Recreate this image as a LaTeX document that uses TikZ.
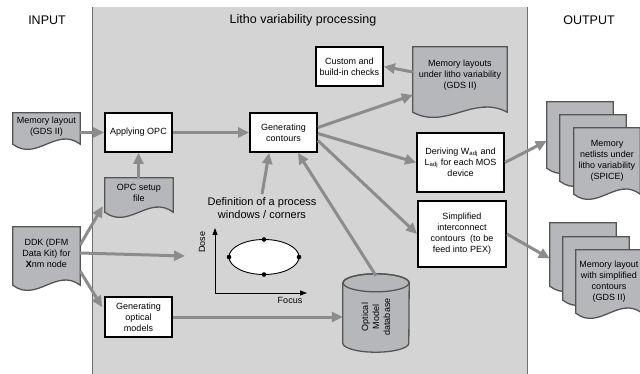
\documentclass[tikz,border=0pt]{standalone}
\usepackage{fontspec}
\setmainfont{Liberation Sans}
\usetikzlibrary{arrows.meta,calc}
\pgfdeclarelayer{bg}
\pgfdeclarelayer{mid}
\pgfsetlayers{bg,mid,main}
\definecolor{panelgray}{HTML}{D4D4D4}
\definecolor{panelline}{HTML}{6E6E6E}
\definecolor{docgray}{HTML}{B5B7BA}
\definecolor{docline}{HTML}{555555}
\definecolor{arrgray}{HTML}{8B8C8E}
\newcommand{\boxfont}{\fontsize{9}{11}\selectfont}
\newcommand{\drawdoc}[2]{%
  \path[docpath] (#1.north west) -- (#1.north east) -- ($(#1.south east)+(0,#2)$)
    .. controls ($(#1.south west)!0.65!(#1.south east)+(0,#2-18)$) and ($(#1.south west)!0.35!(#1.south east)+(0,#2+18)$) ..
    ($(#1.south west)+(0,#2)$) -- cycle;}
\begin{document}
\begin{tikzpicture}[x=1pt,y=-1pt,
  procbox/.style={draw=black, line width=1.8pt, fill=white, align=center, font=\boxfont, inner sep=1pt, minimum width=67pt, minimum height=39pt},
  docnode/.style={align=center, font=\boxfont, inner sep=0pt},
  docpath/.style={fill=docgray, draw=docline, line width=1.3pt},
  arr/.style={draw=arrgray, line width=3pt, -{Triangle[length=11pt,width=10pt]}},
  header/.style={font=\fontsize{12.5}{15}\selectfont},
  axisarr/.style={draw=black, line width=0.9pt, -{Triangle[length=7pt,width=5pt]}}
]
\useasboundingbox (0,0) rectangle (640,374);
\begin{pgfonlayer}{bg}
  \fill[panelgray] (92,7) rectangle (527,374);
  \draw[panelline, line width=0.8pt] (92,7) -- (92,374) (527,7) -- (527,374);
\end{pgfonlayer}

% headers
\node[header] (hin) at (47,20) {INPUT};
\node[header] (hlitho) at (303,20) {Litho variability processing};
\node[header] (hout) at (589,20) {OUTPUT};

% input documents
\node[docnode, minimum width=67pt, minimum height=28pt] (ml) at (46.5,127) {Memory layout\\(GDS II)};
\node[docnode, minimum width=67pt, minimum height=52pt] (ddk) at (46.5,253) {DDK (DFM\\Data Kit) for\\\textbf{X}nm node};
\node[docnode, minimum width=68pt, minimum height=30pt] (opc) at (139,193) {OPC setup\\file};

% process boxes
\node[procbox] (aopc) at (138.5,132.5) {Applying OPC};
\node[procbox] (gc) at (283.5,132.5) {Generating\\contours};
\node[procbox] (cc) at (349.5,66.5) {Custom and\\build-in checks};
\node[procbox, minimum width=87pt, minimum height=59pt] (deriv) at (460.5,162.5) {Deriving W\textsubscript{adj} and\\L\textsubscript{adj} for each MOS\\device};
\node[procbox, minimum width=88pt, minimum height=66pt] (simp) at (462,234) {Simplified\\interconnect\\contours~ (to be\\feed into PEX)};
\node[procbox, minimum height=40pt] (gom) at (138.5,317) {Generating\\optical\\models};

% memory layouts under litho variability
\node[docnode, minimum width=94pt, minimum height=56pt] (mlv) at (460,75) {Memory layouts\\under litho variability\\(GDS II)};

% output stacks
\node[docnode, minimum width=66pt, minimum height=66pt] (nl1) at (580,135) {};
\node[docnode, minimum width=66pt, minimum height=66pt] (nl2) at (593,148) {};
\node[docnode, minimum width=66pt, minimum height=66pt] (nl3) at (607,161) {Memory\\netlists under\\litho variability\\(SPICE)};
\node[docnode, minimum width=66pt, minimum height=63pt] (ly1) at (583,254.5) {};
\node[docnode, minimum width=66pt, minimum height=63pt] (ly2) at (596,268.5) {};
\node[docnode, minimum width=66pt, minimum height=63pt] (ly3) at (609,281.5) {Memory layout\\with simplified\\contours\\(GDS II)};

% database cylinder
\node[inner sep=0pt, minimum width=66pt, minimum height=78pt] (db) at (376,313) {};
\node[font=\boxfont, align=center, rotate=90, inner sep=0pt] (dbtext) at ($(db.center)+(0,4)$) {Optical\\Model\\database};

\begin{pgfonlayer}{mid}
  \drawdoc{ml}{3}
  \drawdoc{ddk}{6}
  \drawdoc{opc}{4}
  \drawdoc{mlv}{9}
  \drawdoc{nl1}{0}
  \drawdoc{nl2}{0}
  \drawdoc{nl3}{0}
  \drawdoc{ly1}{0}
  \drawdoc{ly2}{0}
  \drawdoc{ly3}{0}
  \path[docpath] ($(db.north west)+(0,9)$) -- ($(db.south west)+(0,-9)$)
     arc[start angle=180, end angle=360, x radius=33pt, y radius=9pt]
     -- ($(db.north east)+(0,9)$)
     arc[start angle=0, end angle=180, x radius=33pt, y radius=9pt] -- cycle;
  \draw[docline, line width=1.3pt] ($(db.north)+(0,9)$) ellipse[x radius=33pt, y radius=9pt];
\end{pgfonlayer}

% process window plot
\node[font=\fontsize{11}{12.5}\selectfont, align=center] (defn) at (262,208) {Definition of a process\\windows / corners};
\coordinate (orig) at (215,293);
\coordinate (ytop) at (215,228);
\coordinate (xend) at (307,293);
\draw[axisarr] (orig) -- (ytop);
\draw[axisarr] (orig) -- (xend);
\node[font=\boxfont, rotate=90] (dose) at (202,242) {Dose};
\node[font=\boxfont] (focus) at (290,300) {Focus};
\coordinate (ell) at (264,257);
\draw[fill=white, line width=0.9pt] (ell) ellipse[x radius=35pt, y radius=17.5pt];
\foreach \dx/\dy in {-35/0, 35/0, 0/-17.5, 0/17.5}
  \fill ($(ell)+(\dx,\dy)$) circle[radius=2.3pt];

% connectors
\coordinate (ddkend) at (185,256);
\draw[arr] (aopc.west -| ml.east) -- (aopc.west);
\draw[arr] (aopc.east) -- (gc.west);
\draw[arr] (opc.north -| aopc.south) -- (aopc.south);
\draw[arr] ($(ddk.north east)+(0,18)$) -- ($(opc.south west)+(-2,-2)$);
\draw[arr] (ddk.east) -- (ddkend);
\draw[arr] ($(ddk.south east)+(0,-8)$) -- ($(gom.north west)+(-2,11)$);
\draw[arr] (gom.east) -- (gom.east -| db.west);
\draw[arr] ($(db.north)+(0,2)$) -- ($(gc.south east)+(-20,0)$);
\draw[arr] (defn.north) -- ($(gc.south west)+(20,0)$);
\draw[arr] ($(gc.east)+(0,-5)$) -- ($(mlv.west)+(0,20)$);
\draw[arr] ($(mlv.west)+(0,-3)$) -- (cc.east);
\draw[arr] ($(gc.east)+(0,1)$) -- (deriv.west);
\draw[arr] ($(gc.east)+(0,8)$) -- (simp.west);
\draw[arr] (deriv.east) -- ($(nl1.west)+(0,6)$);
\draw[arr] (simp.east) -- ($(ly1.west)+(0,4)$);
\end{tikzpicture}
\end{document}
